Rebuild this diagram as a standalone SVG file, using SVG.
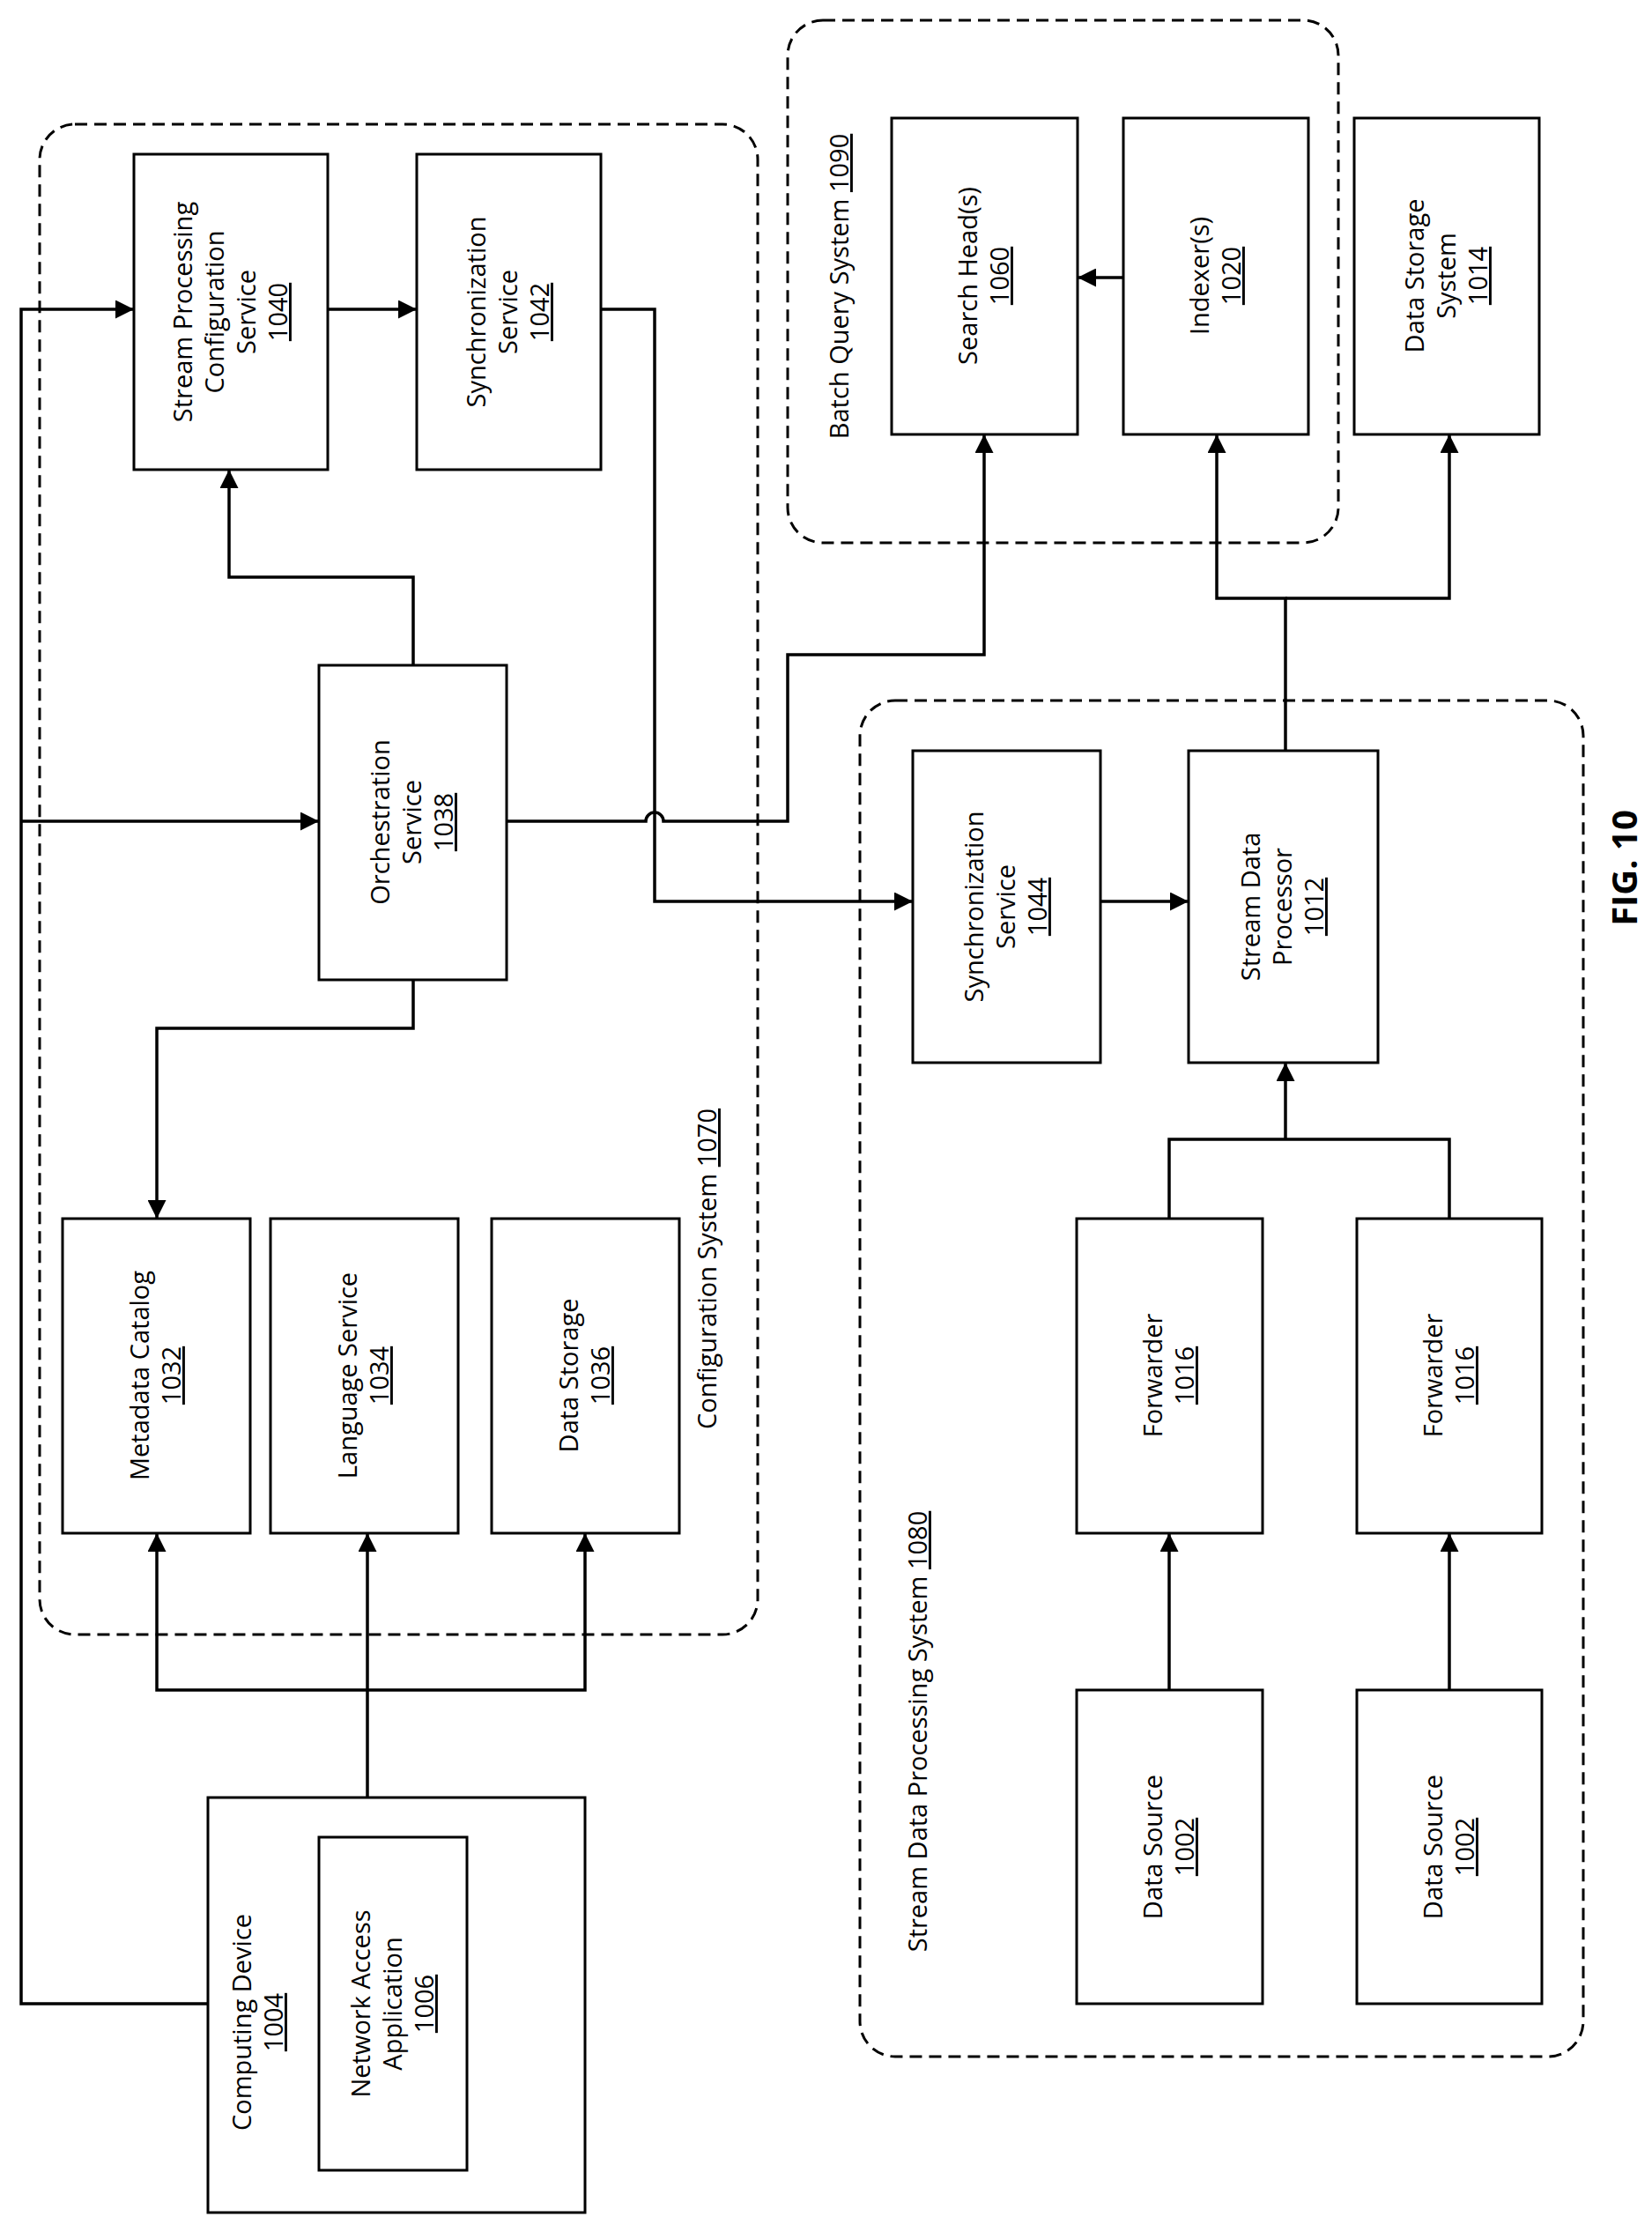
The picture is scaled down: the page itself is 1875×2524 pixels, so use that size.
<svg xmlns="http://www.w3.org/2000/svg" width="1875" height="2524" viewBox="0 0 1875 2524">
<style>
.b{fill:#fff;stroke:#000;stroke-width:3}
.d{fill:none;stroke:#000;stroke-width:3;stroke-dasharray:14 8}
.c{fill:none;stroke:#000;stroke-width:3.5}
text{font-family:"Open Sans","Liberation Sans",sans-serif;font-size:29px;text-anchor:middle;fill:#000}
.u{text-decoration:underline}
</style>
<defs><marker id="a" viewBox="0 0 10 10" refX="10" refY="5" markerWidth="6" markerHeight="6" markerUnits="strokeWidth" orient="auto"><path d="M0,0L10,5L0,10z"/></marker></defs>
<rect class="d" x="45" y="141" width="815" height="1714" rx="40"/>
<rect class="d" x="894" y="23" width="625" height="593" rx="40"/>
<rect class="d" x="976" y="795" width="821" height="1539" rx="40"/>
<text transform="translate(813 1440) rotate(-90)">Configuration System <tspan class="u">1070</tspan></text>
<text transform="translate(963 325) rotate(-90)">Batch Query System <tspan class="u">1090</tspan></text>
<text transform="translate(1052 1965) rotate(-90)">Stream Data Processing System <tspan class="u">1080</tspan></text>
<g id="n1040"><rect class="b" x="152" y="175" width="220" height="358"/><text transform="translate(262 354) rotate(-90)"><tspan x="0" y="-44">Stream Processing</tspan><tspan x="0" y="-8">Configuration</tspan><tspan x="0" y="28">Service</tspan><tspan class="u" x="0" y="64">1040</tspan></text></g>
<g id="n1042"><rect class="b" x="473" y="175" width="209" height="358"/><text transform="translate(577 354) rotate(-90)"><tspan x="0" y="-26">Synchronization</tspan><tspan x="0" y="10">Service</tspan><tspan class="u" x="0" y="46">1042</tspan></text></g>
<g id="n1038"><rect class="b" x="362" y="755" width="213" height="357"/><text transform="translate(468 933) rotate(-90)"><tspan x="0" y="-26">Orchestration</tspan><tspan x="0" y="10">Service</tspan><tspan class="u" x="0" y="46">1038</tspan></text></g>
<g id="n1032"><rect class="b" x="71" y="1383" width="213" height="357"/><text transform="translate(177 1561) rotate(-90)"><tspan x="0" y="-8">Metadata Catalog</tspan><tspan class="u" x="0" y="28">1032</tspan></text></g>
<g id="n1034"><rect class="b" x="307" y="1383" width="213" height="357"/><text transform="translate(413 1561) rotate(-90)"><tspan x="0" y="-8">Language Service</tspan><tspan class="u" x="0" y="28">1034</tspan></text></g>
<g id="n1036"><rect class="b" x="558" y="1383" width="213" height="357"/><text transform="translate(664 1561) rotate(-90)"><tspan x="0" y="-8">Data Storage</tspan><tspan class="u" x="0" y="28">1036</tspan></text></g>
<g id="n1004"><rect class="b" x="236" y="2040" width="428" height="471"/><text transform="translate(300 2295) rotate(-90)"><tspan x="0" y="-15">Computing Device</tspan><tspan class="u" x="0" y="21">1004</tspan></text></g>
<g id="n1006"><rect class="b" x="362" y="2085" width="168" height="378"/><text transform="translate(446 2274) rotate(-90)"><tspan x="0" y="-26">Network Access</tspan><tspan x="0" y="10">Application</tspan><tspan class="u" x="0" y="46">1006</tspan></text></g>
<g id="n1060"><rect class="b" x="1012" y="134" width="211" height="359"/><text transform="translate(1117 313) rotate(-90)"><tspan x="0" y="-8">Search Head(s)</tspan><tspan class="u" x="0" y="28">1060</tspan></text></g>
<g id="n1020"><rect class="b" x="1275" y="134" width="210" height="359"/><text transform="translate(1380 313) rotate(-90)"><tspan x="0" y="-8">Indexer(s)</tspan><tspan class="u" x="0" y="28">1020</tspan></text></g>
<g id="n1014"><rect class="b" x="1537" y="134" width="210" height="359"/><text transform="translate(1642 313) rotate(-90)"><tspan x="0" y="-26">Data Storage</tspan><tspan x="0" y="10">System</tspan><tspan class="u" x="0" y="46">1014</tspan></text></g>
<g id="n1044"><rect class="b" x="1036" y="852" width="213" height="354"/><text transform="translate(1142 1029) rotate(-90)"><tspan x="0" y="-26">Synchronization</tspan><tspan x="0" y="10">Service</tspan><tspan class="u" x="0" y="46">1044</tspan></text></g>
<g id="n1012"><rect class="b" x="1349" y="852" width="215" height="354"/><text transform="translate(1456 1029) rotate(-90)"><tspan x="0" y="-26">Stream Data</tspan><tspan x="0" y="10">Processor</tspan><tspan class="u" x="0" y="46">1012</tspan></text></g>
<g id="n1016a"><rect class="b" x="1222" y="1383" width="211" height="357"/><text transform="translate(1327 1561) rotate(-90)"><tspan x="0" y="-8">Forwarder</tspan><tspan class="u" x="0" y="28">1016</tspan></text></g>
<g id="n1016b"><rect class="b" x="1540" y="1383" width="210" height="357"/><text transform="translate(1645 1561) rotate(-90)"><tspan x="0" y="-8">Forwarder</tspan><tspan class="u" x="0" y="28">1016</tspan></text></g>
<g id="n1002a"><rect class="b" x="1222" y="1918" width="211" height="356"/><text transform="translate(1327 2096) rotate(-90)"><tspan x="0" y="-8">Data Source</tspan><tspan class="u" x="0" y="28">1002</tspan></text></g>
<g id="n1002b"><rect class="b" x="1540" y="1918" width="210" height="356"/><text transform="translate(1645 2096) rotate(-90)"><tspan x="0" y="-8">Data Source</tspan><tspan class="u" x="0" y="28">1002</tspan></text></g>
<text transform="translate(1858 985) rotate(-90)" style="font-size:40px;font-weight:bold">FIG. 10</text>
<g id="connectors">
<path class="c" d="M236,2274H24V351H152" marker-end="url(#a)"/>
<path class="c" d="M24,932H362" marker-end="url(#a)"/>
<path class="c" d="M372,351H473" marker-end="url(#a)"/>
<path class="c" d="M682,351H743V1023H1036" marker-end="url(#a)"/>
<path class="c" d="M469,755V655H260V533" marker-end="url(#a)"/>
<path class="c" d="M469,1112V1167H178V1383" marker-end="url(#a)"/>
<path class="c" d="M575,932H733A10,10 0 0 1 753,932H894V743H1117V493" marker-end="url(#a)"/>
<path class="c" d="M1275,315H1223" marker-end="url(#a)"/>
<path class="c" d="M1459,852V679H1381V493" marker-end="url(#a)"/>
<path class="c" d="M1459,679H1645V493" marker-end="url(#a)"/>
<path class="c" d="M1249,1023H1349" marker-end="url(#a)"/>
<path class="c" d="M1327,1383V1293H1645V1383M1459,1293V1206" marker-end="url(#a)"/>
<path class="c" d="M1327,1918V1740" marker-end="url(#a)"/>
<path class="c" d="M1645,1918V1740" marker-end="url(#a)"/>
<path class="c" d="M417,2040V1740" marker-end="url(#a)"/>
<path class="c" d="M417,1918H178V1740" marker-end="url(#a)"/>
<path class="c" d="M417,1918H664V1740" marker-end="url(#a)"/>
</g>
</svg>
